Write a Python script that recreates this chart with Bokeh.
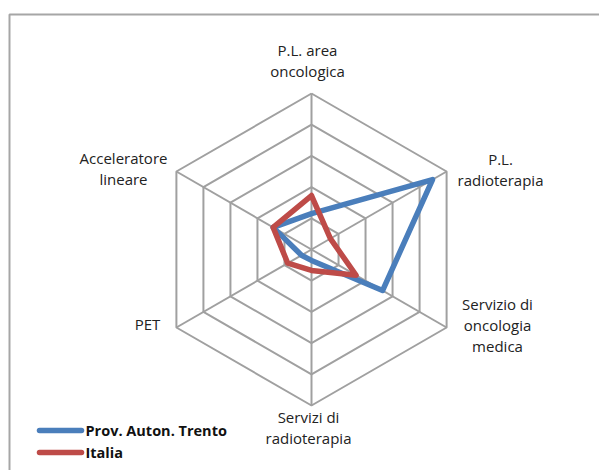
import numpy as np
from bokeh.plotting import figure
from bokeh.models import Range1d
from bokeh.embed import file_html
from bokeh.resources import INLINE
from bokeh.core.properties import value

# ---------------- data ----------------
categories = ["P.L. area\noncologica", "P.L.\nradioterapia",
              "Servizio di\noncologia\nmedica", "Servizi di\nradioterapia",
              "PET", "Acceleratore\nlineare"]
trento = [1.15, 4.48, 2.63, 0.35, 0.37, 1.42]
italia = [1.73, 0.70, 1.65, 0.67, 0.88, 1.42]
series_names = ["Prov. Auton. Trento", "Italia"]
ring_levels = [1, 2, 3, 4, 5]

# ---------------- layout ----------------
W, H = 599, 470
CXP, CYP = 311, 249          # radar centre in pixels
UNIT = 31.2                  # pixels per ring unit
FONT = "Open Sans"
GRID = "#a0a0a0"
BLUE = "#4a7ebb"
RED = "#be4b48"

def P(px, py):
    """pixel -> data coords"""
    return (px - CXP) / UNIT, (CYP - py) / UNIT

x0, y1 = P(0, 0)
x1, y0 = P(W, H)

p = figure(width=W, height=H, output_backend="svg", toolbar_location=None,
           x_range=Range1d(x0, x1), y_range=Range1d(y0, y1),
           min_border=0, border_fill_color="white", outline_line_color=None)
p.axis.visible = False
p.grid.visible = False

n = len(categories)
angles = np.pi / 2 - np.arange(n) * 2 * np.pi / n   # clockwise from top

# grid rings
for lv in ring_levels:
    xs = list(lv * np.cos(angles)) + [lv * np.cos(angles[0])]
    ys = list(lv * np.sin(angles)) + [lv * np.sin(angles[0])]
    p.line(xs, ys, line_color=GRID, line_width=2)
# spokes
rmax = max(ring_levels)
for a in angles:
    p.line([0, rmax * np.cos(a)], [0, rmax * np.sin(a)], line_color=GRID, line_width=2)

# series
for vals, col in [(trento, BLUE), (italia, RED)]:
    v = np.array(vals + [vals[0]])
    a = np.concatenate([angles, angles[:1]])
    p.line(v * np.cos(a), v * np.sin(a), line_color=col, line_width=5.5,
           line_join="round", line_cap="round")

# category labels (first line position in px)
label_pos = [(307, 49), (500, 158), (497, 303), (308, 416), (147, 323), (123, 157)]
LINE_H = 21
for cat, (lx, ly) in zip(categories, label_pos):
    for i, line in enumerate(cat.split("\n")):
        tx, ty = P(lx, ly + i * LINE_H)
        p.text([tx], [ty], text=[line], text_font=value(FONT), text_font_size="15px",
               text_color="#222222", text_align="center", text_baseline="middle")

# chart frame (top and left edges visible)
fx0, fy0 = P(9, 14)
p.line([fx0, fx0, x1 + 1], [y0 - 1, fy0, fy0], line_color="#a6a6a6", line_width=2)

# legend
leg_y = [430, 452]
for name, col, ly in zip(series_names, [BLUE, RED], leg_y):
    ax, ay = P(39, ly)
    bx, _ = P(81, ly)
    p.line([ax, bx], [ay, ay], line_color=col, line_width=5.5, line_cap="round")
    tx, ty = P(85, ly)
    p.text([tx], [ty], text=[name], text_font=value(FONT), text_font_size="14.5px",
           text_font_style="bold", text_color="#111111", text_align="left",
           text_baseline="middle")

open("out.html", "w").write(file_html(p, INLINE))
